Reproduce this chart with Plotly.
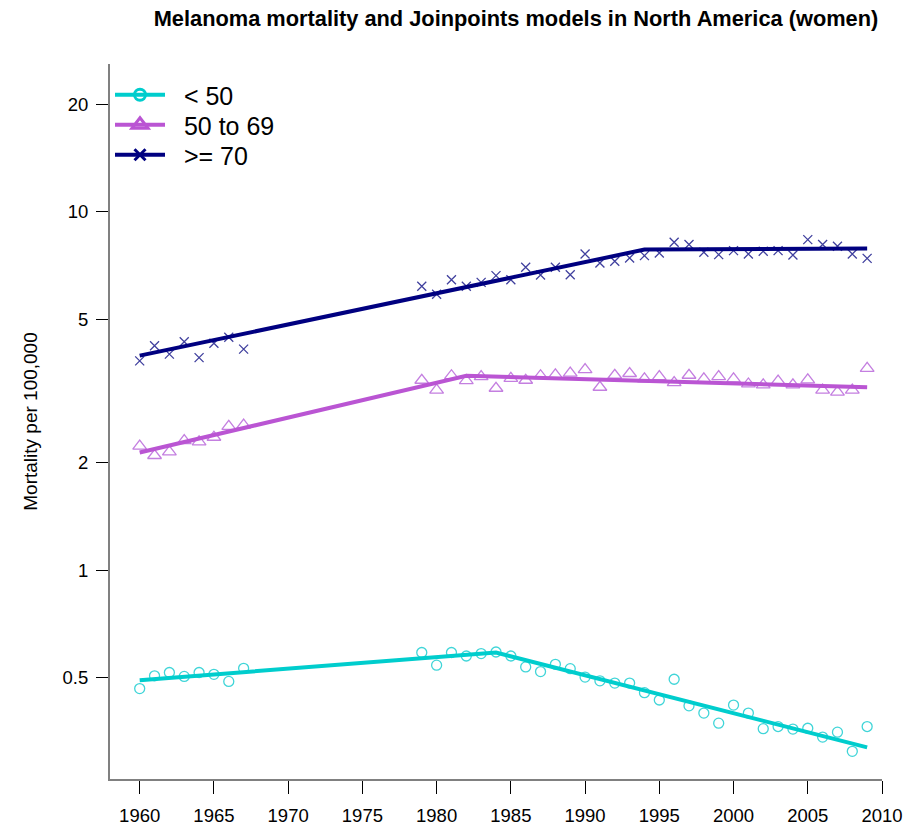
import plotly.graph_objects as go

# ---- data ----
years = list(range(1960, 1968)) + list(range(1979, 2010))

under50 = [0.467, 0.507, 0.518, 0.505, 0.518, 0.512, 0.489, 0.532,
           0.589, 0.543, 0.589, 0.576, 0.585, 0.591, 0.576, 0.537, 0.521, 0.546,
           0.531, 0.503, 0.491, 0.484, 0.484, 0.455, 0.434, 0.496, 0.418, 0.399,
           0.374, 0.420, 0.399, 0.361, 0.366, 0.360, 0.362, 0.342, 0.353, 0.312, 0.366]

age50_69 = [2.22, 2.09, 2.14, 2.30, 2.28, 2.35, 2.52, 2.54,
            3.39, 3.18, 3.49, 3.38, 3.47, 3.22, 3.43, 3.39, 3.49, 3.51,
            3.55, 3.63, 3.24, 3.50, 3.54, 3.42, 3.47, 3.34, 3.50, 3.42,
            3.47, 3.42, 3.31, 3.29, 3.37, 3.29, 3.40, 3.18, 3.14, 3.18, 3.66]

over70 = [3.84, 4.23, 4.01, 4.34, 3.92, 4.30, 4.47, 4.14,
          6.20, 5.89, 6.47, 6.20, 6.36, 6.64, 6.47, 7.01, 6.67, 7.01,
          6.68, 7.63, 7.20, 7.28, 7.44, 7.55, 7.68, 8.23, 8.11, 7.72,
          7.60, 7.80, 7.63, 7.77, 7.80, 7.58, 8.37, 8.11, 8.02, 7.63, 7.42]

# Joinpoint model fits (segment end points)
jp_under50_years = [1960, 1984, 2009]
jp_under50 = [0.493, 0.589, 0.320]
jp_age50_69_years = [1960, 1982, 2009]
jp_age50_69 = [2.13, 3.49, 3.24]
jp_over70_years = [1960, 1994, 2009]
jp_over70 = [3.97, 7.85, 7.90]

names = ["< 50", "50 to 69", ">= 70"]
line_colors = ["#00CDCD", "#BA55D3", "#000080"]
marker_colors = ["#40D5D8", "#C47FE0", "#40409E"]
symbols = ["circle-open", "triangle-up-open", "x-thin-open"]
marker_sizes = [10, 12, 9]
legend_symbols = ["circle-open", "triangle-up-open", "x-thin-open"]
legend_sizes = [11, 14, 11]

tick_years = list(range(1960, 2011, 5))
y_tickvals = [0.5, 1, 2, 5, 10, 20]
y_ticktext = ["0.5", "1", "2", "5", "10", "20"]

FONT = "Liberation Sans, Arial, sans-serif"

fig = go.Figure()

obs = [under50, age50_69, over70]
jp_x = [jp_under50_years, jp_age50_69_years, jp_over70_years]
jp_y = [jp_under50, jp_age50_69, jp_over70]

for i in range(3):
    fig.add_trace(go.Scatter(
        x=years, y=obs[i], mode="markers", showlegend=False,
        marker=dict(symbol=symbols[i], size=marker_sizes[i], color=marker_colors[i],
                    line=dict(width=1.3, color=marker_colors[i])),
        hoverinfo="x+y"))
    fig.add_trace(go.Scatter(
        x=jp_x[i], y=jp_y[i], mode="lines", showlegend=False,
        line=dict(color=line_colors[i], width=4), hoverinfo="skip"))

# legend entries (line + symbol), one legend per row
legend_keys = ["legend", "legend2", "legend3"]
row_px = [95, 125, 155]          # row centres in page pixels
plot_top, plot_bottom = 64, 779
for i in range(3):
    fig.add_trace(go.Scatter(
        x=[None], y=[None], mode="lines+markers", name="\u00a0\u00a0" + names[i],
        legend=legend_keys[i],
        line=dict(color=line_colors[i], width=4),
        marker=dict(symbol=legend_symbols[i], size=legend_sizes[i], color=line_colors[i],
                    line=dict(width=3, color=line_colors[i]))))

legend_common = dict(x=0.0, xanchor="left", yanchor="middle",
                     bgcolor="rgba(0,0,0,0)", font=dict(size=25, family=FONT),
                     itemwidth=50)
legends = {}
for i, key in enumerate(legend_keys):
    legends[key] = dict(legend_common,
                        y=(plot_bottom - row_px[i]) / (plot_bottom - plot_top))

fig.update_layout(
    width=920, height=828,
    margin=dict(l=110, r=38, t=64, b=49),
    paper_bgcolor="white", plot_bgcolor="white",
    font=dict(family=FONT, color="black"),
    title=dict(text="<b>Melanoma mortality and Joinpoints models in North America (women)</b>",
               x=516 / 920, xanchor="center", y=1 - 18 / 828, yanchor="middle",
               xref="container", yref="container",
               font=dict(size=21.8, family=FONT, color="black")),
    showlegend=True,
    xaxis=dict(range=[1958, 2010], tickvals=tick_years, ticks="outside", ticklen=13,
               tickwidth=1, tickcolor="black", showline=True, linecolor="#808080",
               linewidth=2, showgrid=False, zeroline=False, ticklabelstandoff=6,
               automargin=False, tickfont=dict(size=18.5, family=FONT)),
    yaxis=dict(type="log", range=[-0.583, 1.413], tickvals=y_tickvals, ticktext=y_ticktext,
               ticks="outside", ticklen=12, tickwidth=1, tickcolor="black",
               showline=True, linecolor="#808080", linewidth=2, showgrid=False,
               zeroline=False, ticklabelstandoff=4, tickfont=dict(size=18.5, family=FONT),
               automargin=False,
               title=dict(text="Mortality per 100,000", font=dict(size=19, family=FONT),
                          standoff=20)),
    **legends,
)

fig.write_html("out.html")
